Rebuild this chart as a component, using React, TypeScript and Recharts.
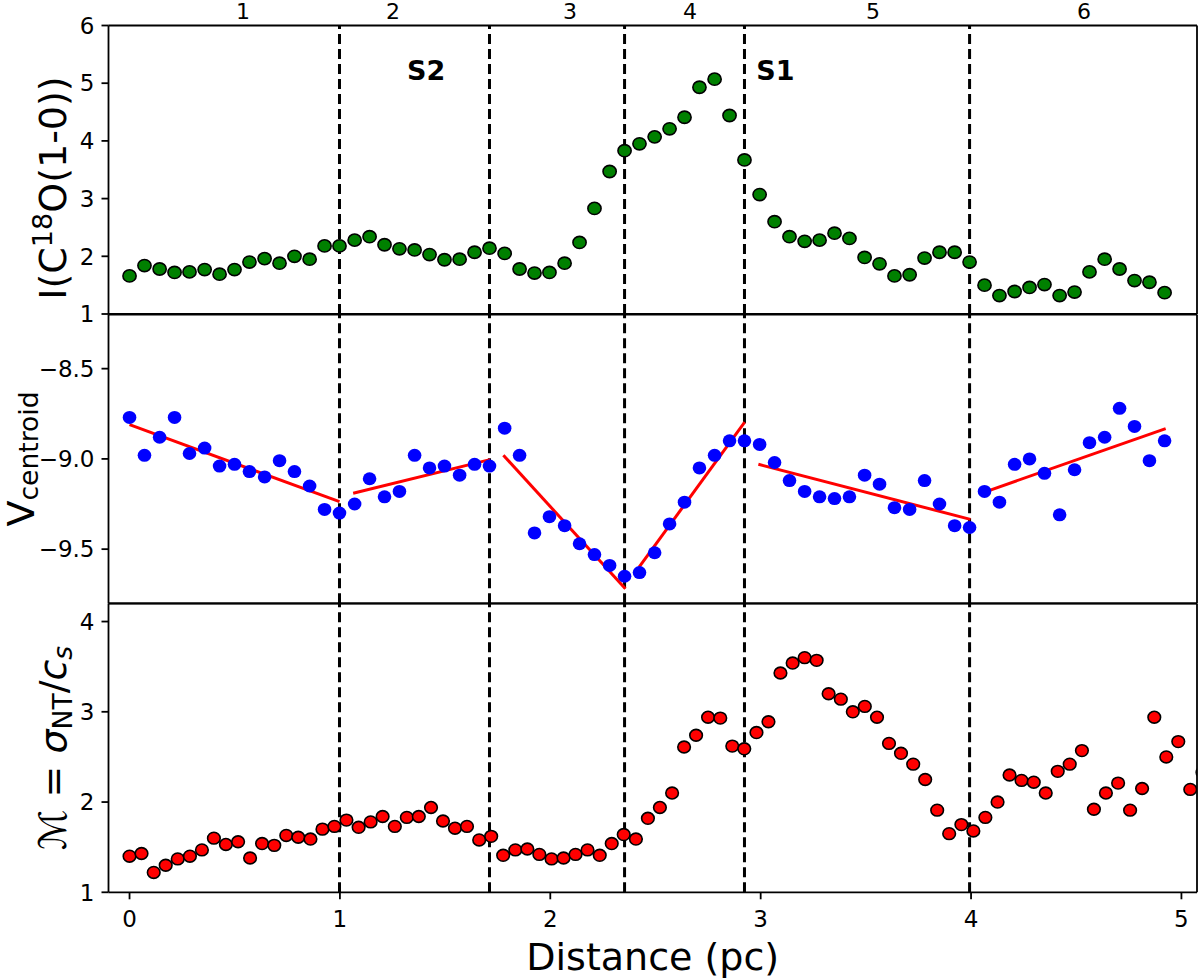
import React from "react";
import { ScatterChart, Scatter, XAxis, YAxis, ReferenceLine, ReferenceDot, Label } from "recharts";

// sample positions along the cut (pc)
const DIST_C18O = [
  0, 0.071, 0.143, 0.214, 0.285, 0.357, 0.428, 0.499, 0.57, 0.642, 0.713, 0.784, 0.856, 0.927, 0.998, 1.07, 1.141, 1.212,
  1.283, 1.355, 1.426, 1.497, 1.569, 1.64, 1.711, 1.783, 1.854, 1.925, 1.996, 2.068, 2.139, 2.21, 2.282, 2.353, 2.424,
  2.496, 2.567, 2.638, 2.709, 2.781, 2.852, 2.923, 2.995, 3.066, 3.137, 3.209, 3.28, 3.351, 3.422, 3.494, 3.565, 3.636,
  3.708, 3.779, 3.85, 3.922, 3.993, 4.064, 4.135, 4.207, 4.278, 4.349, 4.421, 4.492, 4.563, 4.635, 4.706, 4.777, 4.848,
  4.92,
];
const DIST_MACH = [
  0, 0.057, 0.115, 0.172, 0.229, 0.287, 0.344, 0.401, 0.458, 0.516, 0.573, 0.63, 0.688, 0.745, 0.802, 0.86, 0.917, 0.974,
  1.031, 1.089, 1.146, 1.203, 1.261, 1.318, 1.375, 1.433, 1.49, 1.547, 1.604, 1.662, 1.719, 1.776, 1.834, 1.891, 1.948,
  2.006, 2.063, 2.12, 2.177, 2.235, 2.292, 2.349, 2.407, 2.464, 2.521, 2.579, 2.636, 2.693, 2.75, 2.808, 2.865, 2.922,
  2.98, 3.037, 3.094, 3.152, 3.209, 3.266, 3.323, 3.381, 3.438, 3.495, 3.553, 3.61, 3.667, 3.725, 3.782, 3.839, 3.896,
  3.954, 4.011, 4.068, 4.126, 4.183, 4.24, 4.298, 4.355, 4.412, 4.469, 4.527, 4.584, 4.641, 4.699, 4.756, 4.813, 4.871,
  4.928, 4.985, 5.042, 5.1,
];

// I(C18O(1-0))
const INTENSITY = [
  1.66, 1.84, 1.78, 1.72, 1.73, 1.77, 1.69, 1.77, 1.9, 1.96, 1.88, 2.0, 1.95, 2.18, 2.18, 2.28, 2.34, 2.2, 2.13, 2.11,
  2.03, 1.94, 1.95, 2.07, 2.14, 2.05, 1.78, 1.71, 1.72, 1.88, 2.24, 2.83, 3.47, 3.83, 3.95, 4.07, 4.21, 4.41, 4.93, 5.07,
  4.44, 3.67, 3.07, 2.6, 2.34, 2.26, 2.28, 2.4, 2.31, 1.98, 1.87, 1.66, 1.68, 1.97, 2.07, 2.07, 1.9, 1.5, 1.32, 1.39,
  1.46, 1.51, 1.32, 1.38, 1.73, 1.95, 1.78, 1.58, 1.55, 1.37,
];

// V centroid
const VELOCITY = [
  -8.77, -8.98, -8.88, -8.77, -8.97, -8.94, -9.04, -9.03, -9.07, -9.1, -9.01, -9.07, -9.15, -9.28, -9.3, -9.25, -9.11,
  -9.21, -9.18, -8.98, -9.05, -9.04, -9.09, -9.03, -9.04, -8.83, -8.98, -9.41, -9.32, -9.37, -9.47, -9.53, -9.59, -9.65,
  -9.63, -9.52, -9.36, -9.24, -9.05, -8.98, -8.9, -8.9, -8.92, -9.02, -9.12, -9.18, -9.21, -9.22, -9.21, -9.09, -9.14,
  -9.27, -9.28, -9.12, -9.25, -9.37, -9.38, -9.18, -9.24, -9.03, -9.0, -9.08, -9.31, -9.06, -8.91, -8.88, -8.72, -8.82,
  -9.01, -8.9,
];

// Mach number sigma_NT / c_s
const MACH = [
  1.4, 1.43, 1.22, 1.3, 1.37, 1.4, 1.47, 1.6, 1.53, 1.56, 1.38, 1.54, 1.52, 1.63, 1.61, 1.59, 1.7, 1.73, 1.8, 1.72,
  1.78, 1.84, 1.73, 1.83, 1.84, 1.94, 1.79, 1.71, 1.73, 1.58, 1.62, 1.41, 1.47, 1.48, 1.42, 1.37, 1.38, 1.42, 1.47, 1.41,
  1.54, 1.64, 1.59, 1.82, 1.94, 2.1, 2.61, 2.74, 2.94, 2.93, 2.62, 2.59, 2.77, 2.89, 3.43, 3.54, 3.6, 3.57, 3.2, 3.14,
  3.0, 3.06, 2.94, 2.65, 2.54, 2.42, 2.25, 1.91, 1.65, 1.75, 1.68, 1.83, 2.0, 2.3, 2.24, 2.22, 2.1, 2.34, 2.42, 2.57,
  1.92, 2.1, 2.21, 1.91, 2.15, 2.94, 2.5, 2.67, 2.14, 2.33,
];

// linear fits to the velocity in each region
const FIT_X0 = [0.0, 1.063, 1.777, 2.422, 2.989, 4.061];
const FIT_Y0 = [-8.81, -9.19, -8.98, -9.6, -9.03, -9.185];
const FIT_X1 = [0.998, 1.713, 2.357, 2.924, 3.997, 4.925];
const FIT_Y1 = [-9.237, -9.004, -9.719, -8.796, -9.335, -8.832];

const BOUNDARIES = [0.998, 1.711, 2.353, 2.923, 3.993];
const REGION_LABELS = ["1", "2", "3", "4", "5", "6"];
const REGION_POS = [0.539, 1.252, 2.094, 2.664, 3.534, 4.537];
const SHOCK_LABELS = ["S2", "S1"];
const SHOCK_POS = [1.41, 3.07];

const X_MIN = -0.1;
const X_MAX = 5.074;
const FONT = "DejaVu Sans";
const TICK_FS = 23;

const intensityData = DIST_C18O.map((x, i) => ({ x, y: INTENSITY[i] }));
const velocityData = DIST_C18O.map((x, i) => ({ x, y: VELOCITY[i] }));
const machData = DIST_MACH.map((x, i) => ({ x, y: MACH[i] }));

const marker = (fill: string, edge: boolean, rx: number, ry: number) => (props: any) => {
  const { cx, cy } = props;
  if (cx == null || cy == null) return <g />;
  return (
    <ellipse cx={cx} cy={cy} rx={rx} ry={ry} fill={fill} stroke={edge ? "#000" : "none"} strokeWidth={edge ? 1.6 : 0} />
  );
};

const fmtTick = (v: number, digits: number) => (v < 0 ? "\u2212" : "") + Math.abs(v).toFixed(digits);

// left-axis tick: right aligned, vertically centred
const yTick = (digits: number) => (props: any) => {
  const { x, y, payload } = props;
  return (
    <text x={x} y={y} dy="0.36em" textAnchor="end" fontSize={TICK_FS} fill="#000" fontFamily={FONT}>
      {fmtTick(payload.value, digits)}
    </text>
  );
};

const xTick = (props: any) => {
  const { x, y, payload } = props;
  return (
    <text x={x} y={y} dy="0.73em" textAnchor="middle" fontSize={TICK_FS} fill="#000" fontFamily={FONT}>
      {fmtTick(payload.value, 0)}
    </text>
  );
};

const axisStroke = { stroke: "#000", strokeWidth: 1.8 };

function frame(yMax: number, yMin: number | null) {
  const out = [
    <ReferenceLine key="top" y={yMax} stroke="#000" strokeWidth={1.8} />,
    <ReferenceLine key="right" x={X_MAX} stroke="#000" strokeWidth={1.8} />,
  ];
  if (yMin != null) out.push(<ReferenceLine key="bottom" y={yMin} stroke="#000" strokeWidth={1.8} />);
  return out;
}

const boundaryLines = () =>
  BOUNDARIES.map((b) => <ReferenceLine key={b} x={b} stroke="#000" strokeWidth={3} strokeDasharray="10 5" />);

function RotatedLabel({ x, y, children }: { x: number; y: number; children: React.ReactNode }) {
  return (
    <text x={x} y={y} transform={`rotate(-90 ${x} ${y})`} textAnchor="middle" fontSize={38} fill="#000" fontFamily={FONT}>
      {children}
    </text>
  );
}

export default function App() {
  return (
    <div style={{ position: "absolute", left: 0, top: 0, width: 1200, height: 978, background: "#fff", fontFamily: FONT }}>
      <div style={{ position: "absolute", left: 0, top: 0 }}>
        <ScatterChart width={1200} height={332} margin={{ top: 25.5, right: 3, bottom: 18, left: 0 }}>
          <XAxis type="number" dataKey="x" domain={[X_MIN, X_MAX]} allowDataOverflow hide />
          <YAxis
            type="number"
            dataKey="y"
            domain={[1, 6]}
            ticks={[1, 2, 3, 4, 5, 6]}
            width={108.5}
            tick={yTick(0)}
            tickSize={7}
            tickMargin={7}
            tickLine={axisStroke}
            axisLine={axisStroke}
            interval={0}
          >
            <Label
              content={() => (
                <RotatedLabel x={66} y={188}>
                  I(C<tspan fontSize={27} dy={-14}>18</tspan>
                  <tspan dy={14}>O(1-0))</tspan>
                </RotatedLabel>
              )}
            />
          </YAxis>
          {frame(6, 1)}
          {boundaryLines()}
          {REGION_LABELS.map((t, i) => (
            <ReferenceDot
              key={t}
              x={REGION_POS[i]}
              y={6.251}
              r={0}
              fill="none"
              stroke="none"
              ifOverflow="visible"
              label={{ value: t, position: "center", fontSize: 22, fill: "#000", fontFamily: FONT }}
            />
          ))}
          {SHOCK_LABELS.map((t, i) => (
            <ReferenceDot
              key={t}
              x={SHOCK_POS[i]}
              y={5.224}
              r={0}
              fill="none"
              stroke="none"
              label={{ value: t, position: "center", fontSize: 27, fontWeight: "bold", fill: "#000", fontFamily: FONT }}
            />
          ))}
          <Scatter data={intensityData} isAnimationActive={false} shape={marker("#008000", true, 6.6, 6.1)} />
        </ScatterChart>
      </div>

      <div style={{ position: "absolute", left: 0, top: 300 }}>
        <ScatterChart width={1200} height={310} margin={{ top: 14.5, right: 3, bottom: 6.7, left: 0 }}>
          <XAxis type="number" dataKey="x" domain={[X_MIN, X_MAX]} allowDataOverflow hide />
          <YAxis
            type="number"
            dataKey="y"
            domain={[-9.8, -8.2]}
            ticks={[-9.5, -9.0, -8.5]}
            width={108.5}
            tick={yTick(1)}
            tickSize={7}
            tickMargin={7}
            tickLine={axisStroke}
            axisLine={axisStroke}
            interval={0}
          >
            <Label
              content={() => (
                <RotatedLabel x={34} y={159}>
                  V<tspan fontSize={26.6} dy={4}>centroid</tspan>
                </RotatedLabel>
              )}
            />
          </YAxis>
          {frame(-8.2, -9.8)}
          {boundaryLines()}
          {FIT_X0.map((x0, i) => (
            <ReferenceLine
              key={x0}
              segment={[
                { x: x0, y: FIT_Y0[i] },
                { x: FIT_X1[i], y: FIT_Y1[i] },
              ]}
              stroke="#ff0000"
              strokeWidth={3}
            />
          ))}
          <Scatter data={velocityData} isAnimationActive={false} shape={marker("#0000ff", false, 6.8, 6.5)} />
        </ScatterChart>
      </div>

      <div style={{ position: "absolute", left: 0, top: 590 }}>
        <ScatterChart width={1200} height={388} margin={{ top: 13.5, right: 3, bottom: 0, left: 0 }}>
          <XAxis
            type="number"
            dataKey="x"
            domain={[X_MIN, X_MAX]}
            allowDataOverflow
            ticks={[0, 1, 2, 3, 4, 5]}
            height={85.7}
            tick={xTick}
            tickSize={7}
            tickMargin={11}
            tickLine={axisStroke}
            axisLine={axisStroke}
            interval={0}
          >
            <Label
              content={() => (
                <text x={652.75} y={380} textAnchor="middle" fontSize={38} fill="#000" fontFamily={FONT}>
                  Distance (pc)
                </text>
              )}
            />
          </XAxis>
          <YAxis
            type="number"
            dataKey="y"
            domain={[1, 4.2]}
            ticks={[1, 2, 3, 4]}
            width={108.5}
            tick={yTick(0)}
            tickSize={7}
            tickMargin={7}
            tickLine={axisStroke}
            axisLine={axisStroke}
            interval={0}
          >
            <Label
              content={() => (
                <RotatedLabel x={66} y={158}>
                  {"\u2133 = "}
                  <tspan fontStyle="italic">σ</tspan>
                  <tspan fontSize={26.6} dy={6}>NT</tspan>
                  <tspan dy={-6}>/</tspan>
                  <tspan fontStyle="italic">c</tspan>
                  <tspan fontSize={26.6} dy={6} fontStyle="italic">s</tspan>
                </RotatedLabel>
              )}
            />
          </YAxis>
          {frame(4.2, null)}
          {boundaryLines()}
          <Scatter data={machData} isAnimationActive={false} shape={marker("#ff0000", true, 6.3, 5.9)} />
        </ScatterChart>
      </div>
    </div>
  );
}
